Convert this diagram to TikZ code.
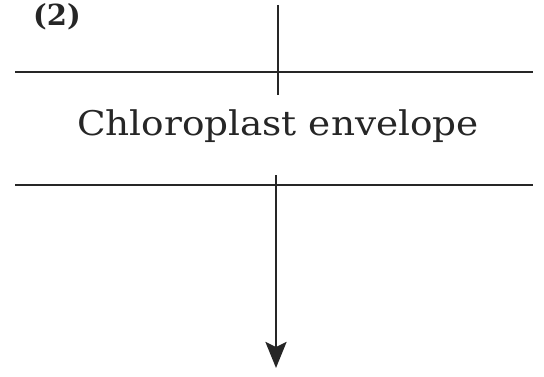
\documentclass[tikz,border=0pt]{standalone}
\usepackage{fontspec}
\setmainfont{DejaVu Serif}
\newfontfamily\widefont[FakeStretch=1.1]{DejaVu Serif}
\usetikzlibrary{arrows.meta}
\begin{document}
\begin{tikzpicture}[x=1pt,y=1pt,
  memline/.style={line width=2.6pt, draw=black!85},
  flowline/.style={line width=2.6pt, draw=black!85},
  flowarrow/.style={line width=2.6pt, draw=black!85, -{Stealth[length=26pt,width=21pt,inset=5pt]}}]
\useasboundingbox (0,0) rectangle (544,376);
\coordinate (m1l) at (15,304);
\coordinate (m1r) at (533,304);
\coordinate (m2l) at (15,191);
\coordinate (m2r) at (533,191);
\coordinate (v1t) at (278,371);
\coordinate (v1b) at (278,281);
\coordinate (v2t) at (276,201);
\coordinate (v2b) at (276,8);
\draw[memline] (m1l) -- (m1r);
\draw[memline] (m2l) -- (m2r);
\draw[flowline] (v1t) -- (v1b);
\draw[flowarrow] (v2t) -- (v2b);
\node[anchor=base, font=\widefont\fontsize{34}{40}\selectfont, text=black!85, inner sep=0pt] (lab) at (278,241) {Chloroplast envelope};
\node[anchor=base, font=\fontsize{29}{34}\selectfont\bfseries, text=black!85, inner sep=0pt] (num) at (57,351) {(2)};
\end{tikzpicture}
\end{document}
